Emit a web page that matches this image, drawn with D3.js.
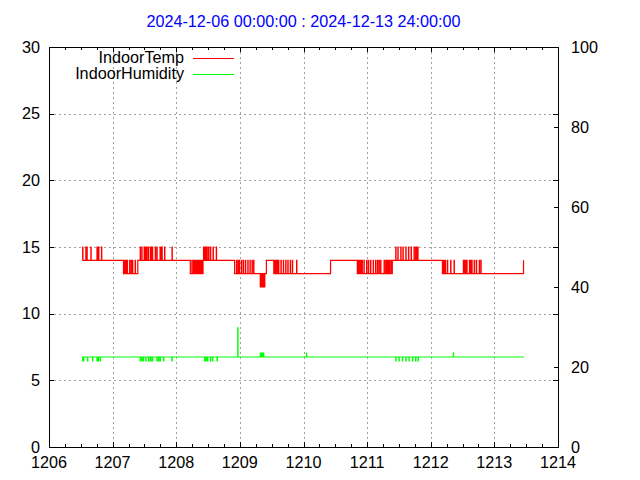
<!DOCTYPE html>
<html>
<meta charset="utf-8">
<style>
  body {
    margin: 0;
    background-color: #fff;
  }
  text {
    font-family: 'Liberation Sans', Arial, sans-serif;
    font-size: 16.2px;
  }
  .grid line {
    stroke: #a0a0a0;
    stroke-width: 1;
    stroke-dasharray: 2, 3;
  }
  .tick {
    stroke: #000;
    stroke-width: 1;
  }
</style>
<body>
<script src="https://cdnjs.cloudflare.com/ajax/libs/d3/7.8.5/d3.min.js"></script>
<script>

// Chart text and axes
var title = '2024-12-06 00:00:00 : 2024-12-13 24:00:00';
var seriesNames = ['IndoorTemp', 'IndoorHumidity'];
var seriesColors = ['#ff0000', '#00ff00'];
var y1Ticks = [0, 5, 10, 15, 20, 25, 30];
var y2Ticks = [0, 20, 40, 60, 80, 100];
var xStart = Date.UTC(2024, 11, 6);
var xEnd = Date.UTC(2024, 11, 14);

// Temperature: [hours since 12-06 00:00, value] where the reading settles
var tempLevels = [
  [12.6, 14], [28.1, 13], [33.5, 14], [53.3, 13], [58.1, 14], [70.0, 13],
  [79.7, 12], [81.4, 13], [82.0, 14], [84.8, 13], [106.2, 14], [116.3, 13],
  [129.5, 14], [148.4, 13], [179.0, 14]
];
// single readings that flick away from the settled value (hours)
var tempBlips15 = [
  12.7, 13.9, 14.3, 15.8, 18.1, 18.3, 18.5, 18.7, 19.8,
  34.4, 35.0, 35.9, 36.2, 36.4, 36.7, 36.9, 37.5, 38.3, 38.5, 38.8, 39.0,
  40.1, 40.7, 41.9, 42.2, 42.6, 43.6, 46.4,
  58.3, 58.6, 58.8, 59.1, 59.3, 59.6, 60.2, 60.9, 61.9, 63.1,
  130.8, 131.6, 132.7, 133.5, 134.6, 135.6, 136.6, 137.7, 138.3, 138.7, 139.1
];
var tempBlips14 = [
  28.3, 28.7, 29.1, 29.5, 30.4, 31.0, 31.5, 32.5,
  53.9, 54.5, 54.9, 55.3, 55.7, 56.1, 56.5, 56.9, 57.3, 57.7,
  70.7, 71.3, 71.8, 72.6, 73.3, 74.1, 75.0, 75.8, 76.6, 77.2,
  85.0, 85.4, 85.8, 86.2, 86.6, 87.5, 88.4, 89.3, 90.1, 91.0, 91.8, 93.4,
  116.6, 117.0, 117.3, 117.7, 118.1, 118.8, 119.8, 120.5, 121.3, 122.3,
  123.2, 123.9, 124.5, 125.1, 126.4, 127.0, 127.4, 127.8, 128.1, 128.5, 129.1,
  148.7, 149.1, 149.5, 150.3, 151.5, 152.8, 156.3, 156.7, 157.1, 157.6,
  158.6, 159.1, 159.5, 160.4, 161.2, 162.3, 162.9
];
var tempBlips13 = [80.0, 80.3, 80.6, 80.9, 81.1];

// Humidity (right axis, %)
var humLevels = [[12.6, 22.5], [79.7, 23.5], [81.0, 22.5], [179.2, 22.5]];
var humBlips215 = [
  12.7, 13.0, 14.5, 16.4, 18.1, 18.6, 19.3,
  34.4, 35.0, 35.6, 36.5, 37.5, 38.2, 38.8, 39.0, 40.7, 41.3, 41.9, 43.2, 46.4,
  58.7, 59.2, 59.8, 60.9, 61.7, 63.4,
  130.8, 132.0, 133.3, 134.6, 135.8, 137.1, 138.3, 139.2
];
var humBlips225 = [80.0, 80.3, 80.6];
var humBlips235 = [97.1, 152.5];
var humBlips298 = [71.2];

var margin = { left: 49, right: 558, top: 47, bottom: 447 };

var svg = d3
  .select('body')
  .append('svg')
  .attr('width', 640)
  .attr('height', 480);

var x = d3
  .scaleUtc()
  .domain([new Date(xStart), new Date(xEnd)])
  .range([margin.left, margin.right]);
var y1 = d3.scaleLinear().domain([0, 30]).range([margin.bottom, margin.top]);
var y2 = d3.scaleLinear().domain([0, 100]).range([margin.bottom, margin.top]);

function hourDate(h) {
  return new Date(xStart + h * 3600e3);
}

function levelAt(levels, h) {
  var v = levels[0][1];
  levels.forEach(function(l) {
    if (l[0] <= h) v = l[1];
  });
  return v;
}

// turn settled levels plus single flicks into step points
function buildSeries(levels, groups) {
  var pts = levels.map(function(l) {
    return [l[0], l[1]];
  });
  groups.forEach(function(g) {
    g.t.forEach(function(h) {
      pts.push([h, g.v]);
      pts.push([h + 0.1, levelAt(levels, h)]);
    });
  });
  pts.sort(function(a, b) {
    return a[0] - b[0];
  });
  return pts;
}

var tempSeries = buildSeries(tempLevels, [
  { v: 15, t: tempBlips15 },
  { v: 14, t: tempBlips14 },
  { v: 13, t: tempBlips13 }
]);
var humSeries = buildSeries(humLevels, [
  { v: 21.5, t: humBlips215 },
  { v: 22.5, t: humBlips225 },
  { v: 23.5, t: humBlips235 },
  { v: 29.8, t: humBlips298 }
]);

var dayTicks = x.ticks(d3.utcDay);
var minorTicks = x.ticks(d3.utcHour.every(6)).filter(function(d) {
  return d.getUTCHours() !== 0;
});
var fmt = d3.utcFormat('%m%d');

// grid
var grid = svg.append('g').attr('class', 'grid').attr('shape-rendering', 'crispEdges');
grid
  .selectAll('line.v')
  .data(dayTicks.slice(1, -1))
  .enter()
  .append('line')
  .attr('x1', function(d) { return Math.round(x(d)) + 0.5; })
  .attr('x2', function(d) { return Math.round(x(d)) + 0.5; })
  .attr('y1', margin.top)
  .attr('y2', margin.bottom);
grid
  .selectAll('line.h')
  .data(y1Ticks.slice(1, -1))
  .enter()
  .append('line')
  .attr('x1', margin.left)
  .attr('x2', margin.right)
  .attr('y1', function(d) { return Math.round(y1(d)) + 0.5; })
  .attr('y2', function(d) { return Math.round(y1(d)) + 0.5; });

// data lines
var line1 = d3
  .line()
  .x(function(d) { return x(hourDate(d[0])); })
  .y(function(d) { return y1(d[1]); })
  .curve(d3.curveStepAfter);
var line2 = d3
  .line()
  .x(function(d) { return x(hourDate(d[0])); })
  .y(function(d) { return y2(d[1]); })
  .curve(d3.curveStepAfter);

svg
  .append('path')
  .datum(tempSeries)
  .attr('d', line1)
  .style('fill', 'none')
  .style('stroke', seriesColors[0])
  .style('stroke-width', 1.2);
svg
  .append('path')
  .datum(humSeries)
  .attr('d', line2)
  .style('fill', 'none')
  .style('stroke', seriesColors[1])
  .style('stroke-width', 1.2);

// ticks
var ticks = svg.append('g').attr('shape-rendering', 'crispEdges');
function px(v) {
  return Math.round(v) + 0.5;
}
dayTicks.forEach(function(d) {
  var xx = px(x(d));
  ticks.append('line').attr('class', 'tick').attr('x1', xx).attr('x2', xx)
    .attr('y1', margin.bottom).attr('y2', margin.bottom - 5);
  ticks.append('line').attr('class', 'tick').attr('x1', xx).attr('x2', xx)
    .attr('y1', margin.top).attr('y2', margin.top + 5);
});
minorTicks.forEach(function(d) {
  var xx = px(x(d));
  ticks.append('line').attr('class', 'tick').attr('x1', xx).attr('x2', xx)
    .attr('y1', margin.bottom).attr('y2', margin.bottom - 3);
  ticks.append('line').attr('class', 'tick').attr('x1', xx).attr('x2', xx)
    .attr('y1', margin.top).attr('y2', margin.top + 3);
});
y1Ticks.forEach(function(v) {
  var yy = px(y1(v));
  ticks.append('line').attr('class', 'tick').attr('x1', margin.left).attr('x2', margin.left + 5)
    .attr('y1', yy).attr('y2', yy);
  ticks.append('line').attr('class', 'tick').attr('x1', margin.right).attr('x2', margin.right - 5)
    .attr('y1', yy).attr('y2', yy);
});
y2Ticks.forEach(function(v) {
  var yy = px(y2(v));
  ticks.append('line').attr('class', 'tick').attr('x1', margin.right).attr('x2', margin.right - 4)
    .attr('y1', yy).attr('y2', yy);
});

// border
svg
  .append('rect')
  .attr('x', margin.left + 0.5)
  .attr('y', margin.top + 0.5)
  .attr('width', margin.right - margin.left)
  .attr('height', margin.bottom - margin.top)
  .attr('shape-rendering', 'crispEdges')
  .style('fill', 'none')
  .style('stroke', '#000')
  .style('stroke-width', 1);

// tick labels
svg
  .selectAll('text.xl')
  .data(dayTicks)
  .enter()
  .append('text')
  .attr('x', function(d) { return x(d); })
  .attr('y', 468)
  .attr('text-anchor', 'middle')
  .text(function(d) { return fmt(d); });
svg
  .selectAll('text.yl')
  .data(y1Ticks)
  .enter()
  .append('text')
  .attr('x', 40)
  .attr('y', function(d) { return y1(d) + 5.5; })
  .attr('text-anchor', 'end')
  .text(function(d) { return d; });
svg
  .selectAll('text.y2l')
  .data(y2Ticks)
  .enter()
  .append('text')
  .attr('x', 571)
  .attr('y', function(d) { return y2(d) + 5.5; })
  .attr('text-anchor', 'start')
  .text(function(d) { return d; });

// title
svg
  .append('text')
  .attr('x', (margin.left + margin.right) / 2)
  .attr('y', 27)
  .attr('text-anchor', 'middle')
  .style('fill', '#0000ff')
  .text(title);

// legend
var legend = svg
  .append('g')
  .selectAll('g')
  .data(seriesNames)
  .enter()
  .append('g')
  .attr('transform', function(d, i) {
    return 'translate(0,' + (58.5 + i * 16) + ')';
  });
legend
  .append('text')
  .attr('x', 184)
  .attr('y', 4.5)
  .attr('text-anchor', 'end')
  .text(function(d) { return d; });
legend
  .append('line')
  .attr('x1', 193)
  .attr('x2', 234)
  .attr('y1', 0)
  .attr('y2', 0)
  .style('stroke', function(d, i) { return seriesColors[i]; })
  .style('stroke-width', 1);

</script>
</body>
</html>
